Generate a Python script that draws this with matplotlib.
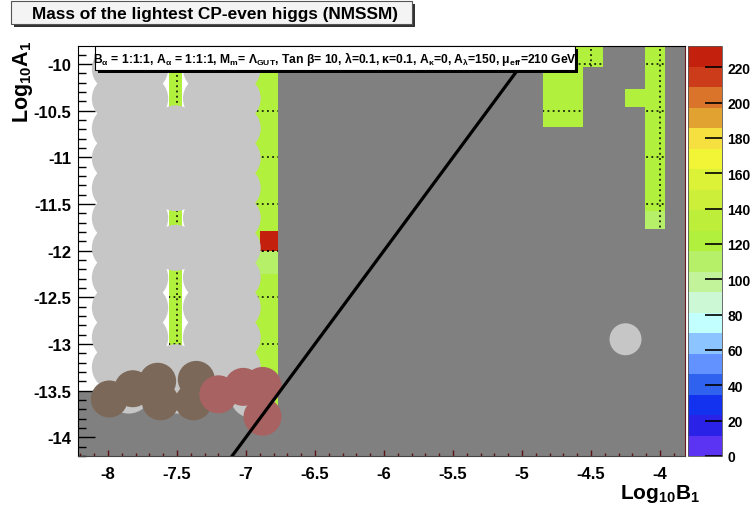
import matplotlib
matplotlib.use('Agg')
import matplotlib.pyplot as plt
import numpy as np
from matplotlib.patches import Rectangle
from matplotlib.collections import LineCollection
from matplotlib.colors import ListedColormap, BoundaryNorm
import matplotlib.cm as cm

plt.rcParams['font.family'] = ['Liberation Sans', 'DejaVu Sans']
plt.rcParams['font.weight'] = 'bold'
plt.rcParams['mathtext.fontset'] = 'custom'
plt.rcParams['mathtext.rm'] = 'Liberation Sans:bold'
plt.rcParams['mathtext.it'] = 'Liberation Sans:bold'
plt.rcParams['mathtext.bf'] = 'Liberation Sans:bold'
plt.rcParams['mathtext.default'] = 'rm'

# palette of the z axis (bottom -> top), 20 bands up to zmax
band_colors = ['#5a34f2', '#2a22e6', '#1232f0', '#3062f0', '#6292ff',
               '#8cc4ff', '#c2ffff', '#cdf8d6', '#c2f29a', '#b6f068',
               '#b2f03e', '#bcee3a', '#ccf03a', '#dcf236', '#f2f536',
               '#f6e040', '#e2a232', '#da742a', '#cc3c1a', '#c4200e']
zmax = 232
zticks = [0, 20, 40, 60, 80, 100, 120, 140, 160, 180, 200, 220]

# coloured cells of the scan (log10 B1 range, log10 A1 range, higgs mass)
cell_x0 = [-6.98, -7.56, -6.98, -6.90, -4.85, -4.56, -4.255, -4.11, -4.11]
cell_x1 = [-6.77, -7.46, -6.77, -6.77, -4.56, -4.41, -4.11, -3.965, -3.965]
cell_y0 = [-13.72, -13.5, -12.25, -12.00, -10.675, -10.03, -10.46, -11.58, -11.77]
cell_y1 = [-9.807, -9.807, -12.00, -11.79, -9.807, -9.807, -10.27, -9.807, -11.58]
cell_mass = [125, 125, 110, 226, 125, 125, 125, 125, 112]

# region with no colour (white) on the left
white_x = [-8.30, -6.98]
white_y = [-13.5, -9.70]

# light grey excluded points
gray_b1 = [-7.95, -7.73, -7.29, -7.06,
           -7.95, -7.73, -7.29, -7.06,
           -7.95, -7.73, -7.51, -7.29, -7.06,
           -7.95, -7.73, -7.51, -7.29, -7.06,
           -7.95, -7.73, -7.51, -7.29, -7.06,
           -7.95, -7.73, -7.29, -7.06,
           -7.95, -7.73, -7.51, -7.29, -7.06,
           -7.95, -7.73, -7.29, -7.06,
           -7.95, -7.73, -7.29, -7.06,
           -7.95, -7.73, -7.29, -7.06,
           -7.95, -7.73, -7.51, -7.29, -7.06,
           -7.85, -7.50, -6.95,
           -4.25]
gray_a1 = [-10.05, -10.05, -10.05, -10.05,
           -10.37, -10.37, -10.37, -10.37,
           -10.69, -10.69, -10.69, -10.69, -10.69,
           -11.01, -11.01, -11.01, -11.01, -11.01,
           -11.33, -11.33, -11.33, -11.33, -11.33,
           -11.65, -11.65, -11.65, -11.65,
           -11.97, -11.97, -11.97, -11.97, -11.97,
           -12.29, -12.29, -12.29, -12.29,
           -12.61, -12.61, -12.61, -12.61,
           -12.93, -12.93, -12.93, -12.93,
           -13.25, -13.25, -13.25, -13.25, -13.25,
           -13.50, -13.50, -13.55,
           -12.95]
gray_r = [23] * 52 + [16]

# brown and red excluded points
brown_b1 = [-7.99, -7.82, -7.64, -7.62, -7.36, -7.38]
brown_a1 = [-13.59, -13.48, -13.40, -13.62, -13.38, -13.62]
red_b1 = [-7.20, -7.02, -6.88, -6.88]
red_a1 = [-13.54, -13.46, -13.45, -13.78]

# line log10 A1 = 2 log10 B1
line_b1 = [-7.12, -4.90]
line_a1 = [2 * v for v in line_b1]

W, H = 753, 510
fig = plt.figure(figsize=(W / 100, H / 100), dpi=100)


def fx(px):
    return px / W


def fy(py):
    return 1 - py / H


def msize(r):
    return (2 * r * 72 / 100) ** 2


ax = fig.add_axes([fx(78), fy(457), fx(685) - fx(78), fy(47) - fy(457)])
ax.set_xlim(-8.217, -3.819)
ax.set_ylim(-14.201, -9.807)
ax.set_facecolor('#808080')

cmap = ListedColormap(band_colors)
levels = np.linspace(0, zmax, len(band_colors) + 1)
norm = BoundaryNorm(levels, cmap.N)

ax.add_patch(Rectangle((white_x[0], white_y[0]), white_x[1] - white_x[0],
                       white_y[1] - white_y[0], fc='white', ec='none', zorder=0.5))

xmaj = np.arange(-8, -3.9, 0.5)
ymaj = np.arange(-14, -9.9, 0.5)
segs = [[(x, -14.2), (x, -9.81)] for x in xmaj] + [[(-8.2, y), (-3.82, y)] for y in ymaj]

for x0, x1, y0, y1, m in zip(cell_x0, cell_x1, cell_y0, cell_y1, cell_mass):
    p = Rectangle((x0, y0), x1 - x0, y1 - y0, fc=cmap(norm(m)), ec='none', zorder=1)
    ax.add_patch(p)
    lc = LineCollection(segs, colors='black', linewidths=1.1,
                        linestyles=[(0, (1.2, 2.2))], zorder=2)
    ax.add_collection(lc)
    lc.set_clip_path(p)

ax.scatter(gray_b1, gray_a1, s=[msize(r) for r in gray_r], c='#c6c6c6',
           edgecolors='none', zorder=3)
ax.scatter(brown_b1, brown_a1, s=msize(18.5), c='#7b6858', edgecolors='none', zorder=4)
ax.scatter(red_b1, red_a1, s=msize(19), c='#a96262', edgecolors='none', zorder=4)

ax.plot(line_b1, line_a1, color='black', lw=2.3, zorder=5)

ax.set_xticks(xmaj)
ax.set_yticks(ymaj)
ax.set_xticklabels(['%g' % v for v in xmaj])
ax.set_yticklabels(['%g' % v for v in ymaj])
ax.set_xticks(np.arange(-8.2, -3.8, 0.1), minor=True)
ax.set_yticks(np.arange(-14.2, -9.8, 0.1), minor=True)
ax.tick_params(axis='y', which='major', direction='in', length=12, width=1,
               labelsize=12, pad=5, right=False)
ax.tick_params(axis='y', which='minor', direction='in', length=6, width=1, right=False)
ax.tick_params(axis='x', which='major', direction='in', length=4, width=1,
               color='#5a1414', labelsize=12, pad=7, top=False)
ax.tick_params(axis='x', which='minor', direction='in', length=2.5, width=1,
               color='#5a1414', top=False)
ax.spines['right'].set_color('#6a1a1a')
ax.spines['bottom'].set_color('#444444')

# colour bar
cax = fig.add_axes([fx(688), fy(457), fx(722) - fx(688), fy(47) - fy(457)])
cb = fig.colorbar(cm.ScalarMappable(norm=norm, cmap=cmap), cax=cax, ticks=zticks)
cb.outline.set_linewidth(0.6)
cb.outline.set_edgecolor('#555555')
cax.tick_params(direction='in', length=12, width=1.2, color='black',
                labelsize=10, pad=4)
cax.minorticks_off()

# axis titles
fig.text(fx(23), fy(40), r'Log$_{10}$A$_1$', rotation=90, ha='center', va='top',
         fontsize=15.5, fontweight='bold')
fig.text(fx(700), fy(494), r'Log$_{10}$B$_1$', ha='right', va='center',
         fontsize=15, fontweight='bold')

# title box
fig.patches.append(Rectangle((fx(14), fy(28)), fx(415) - fx(14), fy(5) - fy(28),
                             transform=fig.transFigure, fc='#333333', ec='none', zorder=5))
fig.patches.append(Rectangle((fx(11), fy(25)), fx(412) - fx(11), fy(2) - fy(25),
                             transform=fig.transFigure, fc='#f4f4f4', ec='#555555',
                             lw=0.8, zorder=6))
fig.text(fx(215), fy(14), 'Mass of the lightest CP-even higgs (NMSSM)', ha='center',
         va='center', fontsize=12.4, fontweight='bold', zorder=7)

# parameter box
fig.patches.append(Rectangle((fx(98), fy(74)), fx(578) - fx(98), fy(50) - fy(74),
                             transform=fig.transFigure, fc='black', ec='none', zorder=5))
fig.patches.append(Rectangle((fx(95), fy(71)), fx(575) - fx(95), fy(47) - fy(71),
                             transform=fig.transFigure, fc='white', ec='black',
                             lw=0.8, zorder=6))
info = (r'B$_{\alpha}$ = 1:1:1, A$_{\alpha}$ = 1:1:1, M$_{\rm m}$= $\Lambda_{\rm GUT}$, '
        r'Tan $\beta$= 10, $\lambda$=0.1, $\kappa$=0.1, A$_{\kappa}$=0, A$_{\lambda}$=150, '
        r'$\mu_{\rm eff}$=210 GeV')
fig.text(fx(335), fy(59), info, ha='center', va='center', fontsize=8.7,
         fontweight='bold', zorder=7)

fig.savefig('out.png', dpi=100)
